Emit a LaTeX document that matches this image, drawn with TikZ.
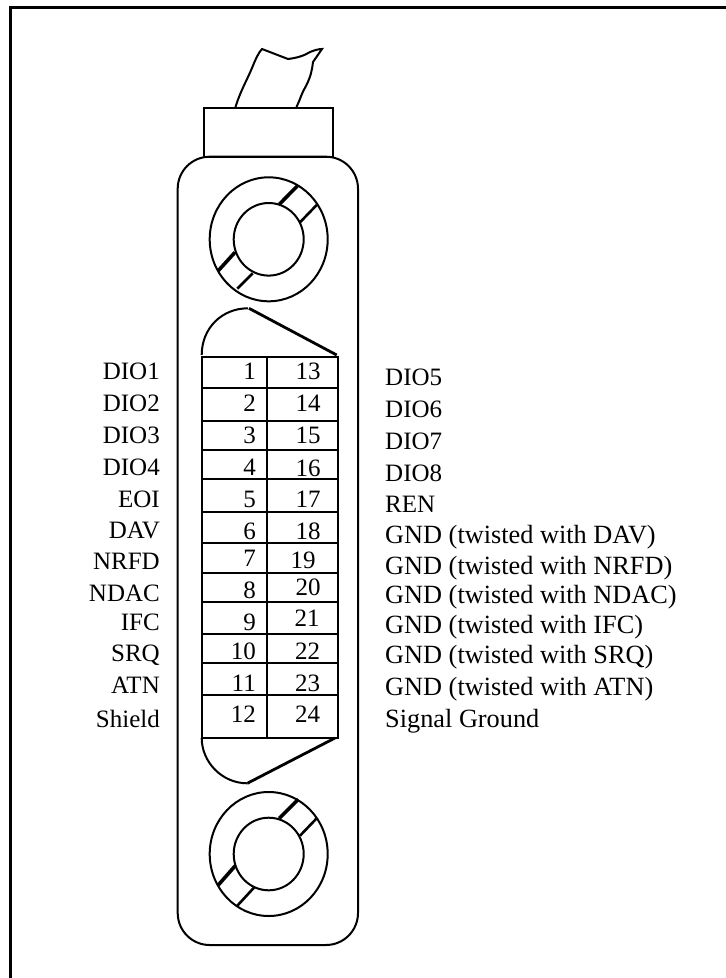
\documentclass[tikz,border=0pt]{standalone}
\usepackage{fontspec}
\setmainfont{Liberation Serif}
\usepackage{tikz}
\usetikzlibrary{shapes.geometric}

\begin{document}
\begin{tikzpicture}[x=1pt,y=-1pt,
    pinlabel/.style={inner sep=0pt,font=\fontsize{25}{25}\selectfont},
    wirelabel/.style={inner sep=0pt,anchor=base west,font=\fontsize{26.3}{26}\selectfont},
    outline/.style={line width=2pt},
    band/.style={line width=3.6pt},
    thinband/.style={line width=2.6pt}]
    \useasboundingbox (0,0) rectangle (726,978);
    \def \lmid {268.7} % centre of the two screws
    % frame
    \draw[line width=3pt] (10.5,978) -- (10.5,7.5) -- (726,7.5);
    % cable and hood
    \draw[outline] (235.5,107) .. controls (240,92) and (247,80) .. (252,68)
      .. controls (256,58) and (259,52) .. (262,49) -- (288,59)
      .. controls (296,58) and (304,56) .. (310,52) .. controls (315,50) and (319,49) .. (322,49)
      -- (313,62) .. controls (312,70) and (311,76) .. (306,86)
      .. controls (302,92) and (300,100) .. (296.5,107);
    \draw[outline] (204.3,108.3) rectangle (332.7,156.7);
    % shell
    \draw[outline,rounded corners=32pt] (177.7,156.7) rectangle (358,945);
    % screws
    \foreach \s/\cy in {top/239.3,bot/854}
    {
      \node[draw,ellipse,outline,minimum width=118pt,minimum height=124pt,inner sep=0pt] (outer\s) at (\lmid,\cy) {};
      \node[draw,ellipse,outline,minimum width=70pt,minimum height=72.6pt,inner sep=0pt] (inner\s) at (\lmid,\cy) {};
    }
    \draw[band] (279.3,204.3) -- (297.3,186);
    \draw[thinband] (300,222.3) -- (316.7,205);
    \draw[band] (218.3,270.7) -- (235,252.3);
    \draw[thinband] (237.3,288.7) -- (252.7,273.3);
    \draw[band] (279.3,818.3) -- (298.3,799.3);
    \draw[thinband] (300,835.7) -- (316.7,818.3);
    \draw[band] (218.3,885) -- (235.3,865.7);
    \draw[thinband] (237.3,905.7) -- (254.3,887.3);
    % socket ends
    \draw[outline] (201.7,355) .. controls (201.7,328) and (222,308.3) .. (248,308.3);
    \draw[line width=2.8pt] (249,308.3) -- (336.7,355);
    \draw[outline] (201.7,738) .. controls (201.7,762) and (222,783.3) .. (247.3,783.3);
    \draw[line width=2.8pt] (247.3,783.3) -- (335,738);
    % socket grid
    \draw[outline] (201.7,356.5) rectangle (337.7,738);
    \draw[outline] (266.7,356.5) -- (266.7,738);
    \foreach \y in {388,420.7,450,479,511.7,543,572.7,601.7,634,663,695}
      \draw[outline] (201.7,\y) -- (337.7,\y);
    % pin numbers
    \foreach \n/\y in {1/379.3,2/411,3/443.3,4/475,5/507.3,6/539.3,7/566,8/598.3,9/630,10/659.3,11/691,12/722.7}
      \node[pinlabel,anchor=base east] (pin\n) at (256,\y) {\n};
    \foreach \n/\x/\y in {13/308/379.3,14/308/411,15/308/443.3,16/308/476,17/308/507.3,18/308/539.3,
      19/303/568.3,20/308/595,21/307/626.7,22/307.5/659.3,23/307.5/691,24/307.5/722.7}
      \node[pinlabel,anchor=base] (pin\n) at (\x,\y) {\n};
    % left signals
    \foreach \t/\y in {DIO1/379.3,DIO2/411.3,DIO3/443.3,DIO4/475,EOI/507.3,DAV/538.3,NRFD/569.3,NDAC/601,IFC/630,SRQ/661.7,ATN/693.3,Shield/727}
      \node[pinlabel,anchor=base east] (sig\t) at (160,\y) {\t};
    % right signals
    \foreach \t/\y in {DIO5/385,DIO6/417.3,DIO7/449,DIO8/481,REN/512.3}
      \node[pinlabel,anchor=base west] (sig\t) at (385,\y) {\t};
    \foreach \t/\y in {DAV/543.3,NRFD/574.3,NDAC/603.3,IFC/633.3,SRQ/663.3,ATN/695}
      \node[wirelabel] (gnd\t) at (385,\y) {GND (twisted with \t)};
    \node[wirelabel] (sigground) at (385,727) {Signal Ground};
\end{tikzpicture}
\end{document}
